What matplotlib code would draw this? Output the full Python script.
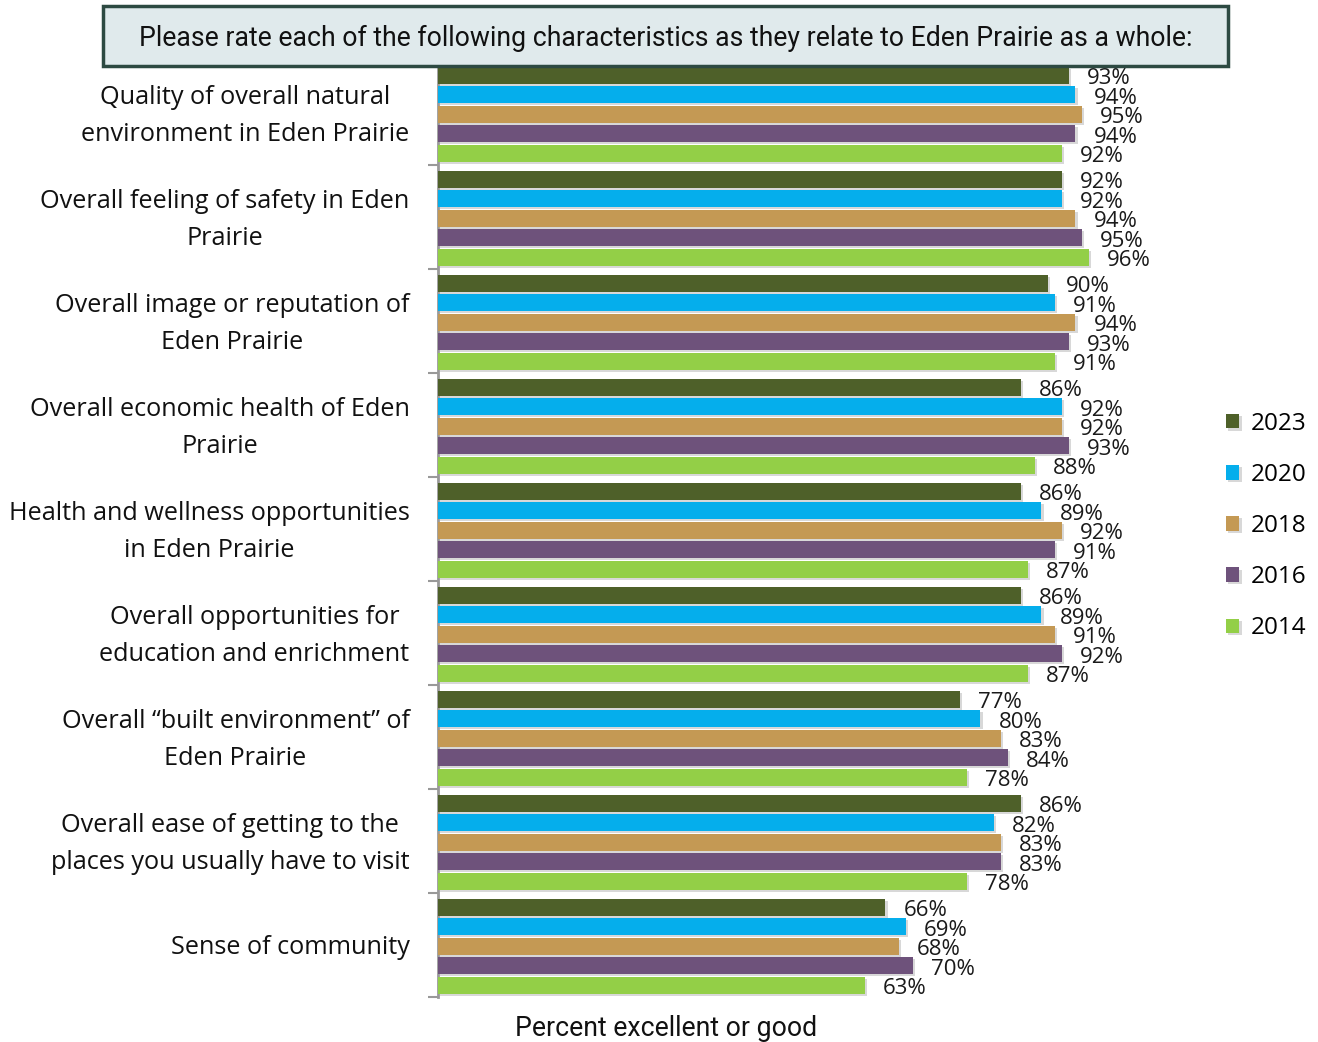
import matplotlib
matplotlib.use("Agg")
import matplotlib.pyplot as plt
import matplotlib.patheffects as pe
from matplotlib.patches import Rectangle
import numpy as np

categories = [
    "Quality of overall natural\nenvironment in Eden Prairie",
    "Overall feeling of safety in Eden\nPrairie",
    "Overall image or reputation of\nEden Prairie",
    "Overall economic health of Eden\nPrairie",
    "Health and wellness opportunities\nin Eden Prairie",
    "Overall opportunities for\neducation and enrichment",
    "Overall \u201cbuilt environment\u201d of\nEden Prairie",
    "Overall ease of getting to the\nplaces you usually have to visit",
    "Sense of community",
]
years = ["2023", "2020", "2018", "2016", "2014"]
v2023 = [93, 92, 90, 86, 86, 86, 77, 86, 66]
v2020 = [94, 92, 91, 92, 89, 89, 80, 82, 69]
v2018 = [95, 94, 94, 92, 92, 91, 83, 83, 68]
v2016 = [94, 95, 93, 93, 91, 92, 84, 83, 70]
v2014 = [92, 96, 91, 88, 87, 87, 78, 78, 63]
series = [v2023, v2020, v2018, v2016, v2014]
colors = ["#4e6029", "#05aeec", "#c49954", "#6e527b", "#93cf47"]

title = "Please rate each of the following characteristics as they relate to Eden Prairie as a whole:"
xlabel = "Percent excellent or good"

W, H = 1318, 1042
fig = plt.figure(figsize=(W / 100, H / 100), dpi=100)

ax_l, ax_r = 438 / W, 1116 / W
ax_top, ax_bot = 61 / H, 997 / H
ax = fig.add_axes([ax_l, 1 - ax_bot, ax_r - ax_l, ax_bot - ax_top])

n = len(categories)
pitch = 0.1875
bar_h = 0.163
shadow = [pe.SimplePatchShadow(offset=(1.6, -1.6), shadow_rgbFace="#b8b8b8", alpha=0.55), pe.Normal()]

for k, (vals, col, yr) in enumerate(zip(series, colors, years)):
    ys = np.arange(n) + 0.51 + (k - 2) * pitch
    bars = ax.barh(ys, vals, height=bar_h, color=col, label=yr, zorder=3)
    for b in bars:
        b.set_path_effects(shadow)
    for y, v in zip(ys, vals):
        ax.annotate(f"{v}%", xy=(v, y), xytext=(13, -2.5), textcoords="offset points",
                    ha="left", va="center", fontsize=16, family="Open Sans",
                    color="#1a1a1a", zorder=4)

ax.set_xlim(0, 100)
ax.set_ylim(n, 0)
ax.set_xticks([])
ax.set_yticks(np.arange(n + 1))
ax.set_yticklabels([])
ax.tick_params(axis="y", which="major", length=7, width=1.5, color="#999999", direction="out")

# Category labels, right-aligned beside the axis, lines centred on each other
for i, cat in enumerate(categories):
    dy = -2.4 if "\n" in cat else -1.5
    ax.annotate(cat, xy=(0, i + 0.5), xycoords=("axes fraction", "data"),
                xytext=(-20.5, dy), textcoords="offset points",
                ha="right", va="center", multialignment="center",
                fontsize=18.2, family="Open Sans", linespacing=1.62,
                color="#111111", annotation_clip=False)

for s in ["top", "right", "bottom"]:
    ax.spines[s].set_visible(False)
ax.spines["left"].set_color("#999999")
ax.spines["left"].set_linewidth(2)
ax.patch.set_alpha(0)

# Title box
box = Rectangle((103 / W, 1 - 66 / H), (1228 - 103) / W, 60 / H, transform=fig.transFigure,
                facecolor="#e0eaec", edgecolor="#2d4a42", linewidth=2.5, zorder=10)
fig.patches.append(box)
fig.text((103 + 1228) / 2 / W, 1 - 38 / H, title, ha="center", va="center",
         fontsize=19.2, family="Roboto", color="#111111", zorder=11)

fig.text(666 / W, 1 - 1028 / H, xlabel, ha="center", va="center",
         fontsize=19.2, family="Roboto", color="#111111")

# Legend
handles, labels = ax.get_legend_handles_labels()
leg = fig.legend(handles, labels, loc="center left", bbox_to_anchor=(1226 / W, 1 - 526 / H),
                 frameon=False, fontsize=17.5, handlelength=0.55, handleheight=0.55,
                 handletextpad=0.45, labelspacing=1.12, borderaxespad=0, borderpad=0)
for t in leg.get_texts():
    t.set_family("Open Sans")

fig.savefig("out.png", dpi=100)
